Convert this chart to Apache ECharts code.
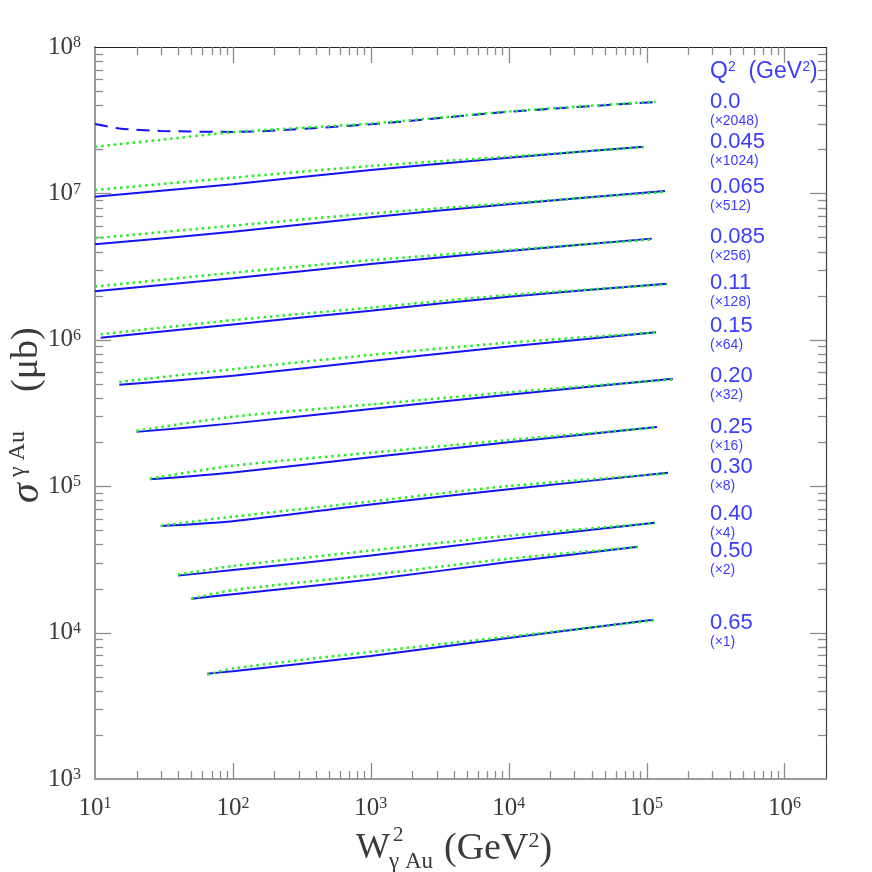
<!DOCTYPE html>
<html><head><meta charset="utf-8">
<script src="https://cdn.jsdelivr.net/npm/echarts@6/dist/echarts.min.js"></script>
<style>html,body{margin:0;padding:0;background:#fff}#c{width:872px;height:872px}</style>
</head><body><div id="c"></div>
<script>
// ---- axis ranges ----
const X_MIN = 10, X_MAX = 2e6, Y_MIN = 1e3, Y_MAX = 1e8;

// ---- legend texts ----
const q2Labels = ['0.0','0.045','0.065','0.085','0.11','0.15','0.20','0.25','0.30','0.40','0.50','0.65'];
const scaleLabels = ['(×2048)','(×1024)','(×512)','(×256)','(×128)','(×64)','(×32)','(×16)','(×8)','(×4)','(×2)','(×1)'];

// ---- curves: W^2 points, solid/dashed (blue) and dotted (green) values in microbarn ----
const w2_q0    = [10, 15, 30, 100, 1000, 10000, 116000];
const blue_q0  = [2.98e7, 2.78e7, 2.67e7, 2.63e7, 2.97e7, 3.61e7, 4.21e7];
const green_q0 = [2.08e7, 2.17e7, 2.32e7, 2.62e7, 3.00e7, 3.63e7, 4.24e7];

const w2_q045    = [10, 100, 1000, 10000, 95000];
const blue_q045  = [9.50e6, 1.154e7, 1.446e7, 1.753e7, 2.084e7];
const green_q045 = [1.055e7, 1.28e7, 1.540e7, 1.781e7, 2.068e7];

const w2_q065    = [10, 100, 1000, 10000, 136000];
const blue_q065  = [4.49e6, 5.47e6, 6.875e6, 8.44e6, 1.039e7];
const green_q065 = [4.94e6, 6.02e6, 7.29e6, 8.56e6, 1.022e7];

const w2_q085    = [10, 100, 1000, 10000, 109000];
const blue_q085  = [2.15e6, 2.63e6, 3.29e6, 4.04e6, 4.91e6];
const green_q085 = [2.31e6, 2.87e6, 3.497e6, 4.11e6, 4.84e6];

const w2_q11    = [11, 100, 1000, 10000, 140000];
const blue_q11  = [1.033e6, 1.274e6, 1.582e6, 1.97e6, 2.417e6];
const green_q11 = [1.09e6, 1.362e6, 1.658e6, 2.023e6, 2.386e6];

const w2_q15    = [15, 100, 1000, 10000, 117000];
const blue_q15  = [4.94e5, 5.69e5, 7.17e5, 8.99e5, 1.125e6];
const green_q15 = [5.15e5, 6.30e5, 7.88e5, 9.56e5, 1.122e6];

const w2_q20    = [20, 100, 1000, 10000, 155000];
const blue_q20  = [2.35e5, 2.686e5, 3.369e5, 4.22e5, 5.42e5];
const green_q20 = [2.39e5, 2.983e5, 3.615e5, 4.38e5, 5.36e5];

const w2_q25    = [25, 100, 1000, 10000, 119000];
const blue_q25  = [1.115e5, 1.242e5, 1.576e5, 1.994e5, 2.537e5];
const green_q25 = [1.125e5, 1.380e5, 1.692e5, 2.068e5, 2.518e5];

const w2_q30    = [30, 100, 1000, 10000, 143000];
const blue_q30  = [5.35e4, 5.77e4, 7.506e4, 9.52e4, 1.237e5];
const green_q30 = [5.37e4, 6.19e4, 7.87e4, 1.003e5, 1.221e5];

const w2_q40    = [40, 100, 1000, 10000, 115000];
const blue_q40  = [2.45e4, 2.675e4, 3.359e4, 4.35e4, 5.63e4];
const green_q40 = [2.49e4, 2.85e4, 3.635e4, 4.59e4, 5.61e4];

const w2_q50    = [50, 100, 1000, 10000, 86500];
const blue_q50  = [1.705e4, 1.831e4, 2.306e4, 3.031e4, 3.862e4];
const green_q50 = [1.705e4, 1.95e4, 2.476e4, 3.197e4, 3.844e4];

const w2_q65    = [65, 100, 1000, 10000, 112000];
const blue_q65  = [5.24e3, 5.45e3, 6.92e3, 9.19e3, 1.225e4];
const green_q65 = [5.16e3, 5.69e3, 7.38e3, 9.38e3, 1.209e4];

const curves = [
  [w2_q0, blue_q0, green_q0], [w2_q045, blue_q045, green_q045], [w2_q065, blue_q065, green_q065],
  [w2_q085, blue_q085, green_q085], [w2_q11, blue_q11, green_q11], [w2_q15, blue_q15, green_q15],
  [w2_q20, blue_q20, green_q20], [w2_q25, blue_q25, green_q25], [w2_q30, blue_q30, green_q30],
  [w2_q40, blue_q40, green_q40], [w2_q50, blue_q50, green_q50], [w2_q65, blue_q65, green_q65]
];

// legend label vertical centres (layout)
const legendY = [102, 142, 187, 237, 283, 326, 376, 427, 467, 514, 551, 623];

const BLUE = '#1212f2', GREEN = '#22ee22', LBLUE = '#3c3cff', AX = '#3a3a3a';
const SERIF = '"Liberation Serif", "DejaVu Serif", serif';
const SANS = '"Liberation Sans", "DejaVu Sans", sans-serif';

const series = [];
curves.forEach((c, k) => {
  const [w, b, g] = c;
  series.push({
    type: 'line', name: 'model ' + q2Labels[k], symbol: 'none', silent: true, z: 3,
    smooth: 0.25,
    data: w.map((x, i) => [x, b[i]]),
    lineStyle: { color: BLUE, width: 2, type: k === 0 ? [13, 8] : 'solid', cap: 'butt' }
  });
  series.push({
    type: 'line', name: 'fit ' + q2Labels[k], symbol: 'none', silent: true, z: 4,
    smooth: 0.25,
    data: w.map((x, i) => [x, g[i]]),
    lineStyle: { color: GREEN, width: 2.5, type: [2.5, 3.8], cap: 'butt' }
  });
});

// minor/major ticks on all four sides drawn through the axes' scales
series.push({
  type: 'custom', silent: true, z: 2, clip: false,
  data: [[X_MIN, Y_MIN]],
  renderItem: function (params, api) {
    const tl = api.coord([X_MIN, Y_MAX]);
    const br = api.coord([X_MAX, Y_MIN]);
    const st = { stroke: '#8c8c8c', lineWidth: 1.3 };
    const ch = [];
    for (let e = 1; e <= 6; e++) for (let m = 1; m <= 9; m++) {
      const v = m * Math.pow(10, e);
      if (v <= X_MIN || v >= X_MAX) continue;
      const px = Math.round(api.coord([v, Y_MIN])[0]) + 0.5;
      const len = m === 1 ? 16 : 8;
      ch.push({ type: 'line', shape: { x1: px, y1: br[1], x2: px, y2: br[1] - len }, style: st });
      ch.push({ type: 'line', shape: { x1: px, y1: tl[1], x2: px, y2: tl[1] + len }, style: st });
    }
    for (let e = 3; e <= 8; e++) for (let m = 1; m <= 9; m++) {
      const v = m * Math.pow(10, e);
      if (v <= Y_MIN || v >= Y_MAX) continue;
      const py = Math.round(api.coord([X_MIN, v])[1]) + 0.5;
      const len = m === 1 ? 16 : 8;
      ch.push({ type: 'line', shape: { x1: tl[0], y1: py, x2: tl[0] + len, y2: py }, style: st });
      ch.push({ type: 'line', shape: { x1: br[0], y1: py, x2: br[0] - len, y2: py }, style: st });
    }
    return { type: 'group', children: ch };
  }
});

function powLabel(v) {
  const e = Math.log10(v);
  if (Math.abs(e - Math.round(e)) > 1e-6) return '';
  return '{b|10}{s|' + Math.round(e) + '}';
}
const labelRich = {
  b: { fontSize: 25, fontFamily: SERIF, color: AX, lineHeight: 24 },
  s: { fontSize: 16, fontFamily: SERIF, color: AX, verticalAlign: 'top' }
};

const graphic = [];
// legend
graphic.push({
  type: 'text', x: 710, y: 72, silent: true,
  style: { text: 'Q{s|2}  (GeV{s|2})', fill: LBLUE, font: '23px ' + SANS, verticalAlign: 'middle',
    rich: { s: { fontSize: 14, fontFamily: SANS, fill: LBLUE, verticalAlign: 'top' } } }
});
q2Labels.forEach((t, k) => {
  graphic.push({ type: 'text', x: 710, y: legendY[k], silent: true,
    style: { text: t, fill: LBLUE, font: '22px ' + SANS, verticalAlign: 'middle' } });
  graphic.push({ type: 'text', x: 710, y: legendY[k] + 19, silent: true,
    style: { text: scaleLabels[k], fill: LBLUE, font: '14px ' + SANS, verticalAlign: 'middle' } });
});
// x axis title
graphic.push({ type: 'text', x: 356, y: 849, silent: true,
  style: { text: 'W', fill: AX, font: '36px ' + SERIF, verticalAlign: 'middle' } });
graphic.push({ type: 'text', x: 393, y: 835, silent: true,
  style: { text: '2', fill: AX, font: '21px ' + SERIF, verticalAlign: 'middle' } });
graphic.push({ type: 'text', x: 389, y: 862, silent: true,
  style: { text: 'γ Au', fill: AX, font: '23px ' + SERIF, verticalAlign: 'middle' } });
graphic.push({ type: 'text', x: 444, y: 849, silent: true,
  style: { text: '(GeV{s|2})', fill: AX, font: '38px ' + SERIF, verticalAlign: 'middle',
    rich: { s: { fontSize: 22, fontFamily: SERIF, fill: AX, verticalAlign: 'top' } } } });
// y axis title (rotated)
graphic.push({ type: 'group', x: 27, y: 415, rotation: Math.PI / 2, silent: true, children: [
  { type: 'text', x: -88, y: 0, style: { text: 'σ', fill: AX, font: 'italic 40px ' + SERIF, verticalAlign: 'middle' } },
  { type: 'text', x: -62, y: -9, style: { text: 'γ Au', fill: AX, font: '24px ' + SERIF, verticalAlign: 'middle' } },
  { type: 'text', x: 23, y: 0, style: { text: '(μb)', fill: AX, font: '38px ' + SERIF, verticalAlign: 'middle' } }
] });

const option = {
  animation: false,
  backgroundColor: '#fff',
  grid: { left: 95, right: 46, top: 47, bottom: 93, containLabel: false },
  xAxis: [
    { type: 'log', logBase: 10, min: X_MIN, max: X_MAX, position: 'bottom',
      axisLine: { show: true, onZero: false, lineStyle: { color: '#9a9a9a', width: 2 } },
      axisTick: { show: false }, splitLine: { show: false },
      axisLabel: { margin: 17, showMaxLabel: false, showMinLabel: true, formatter: powLabel, rich: labelRich } },
    { type: 'log', logBase: 10, min: X_MIN, max: X_MAX, position: 'top',
      axisLine: { show: true, onZero: false, lineStyle: { color: '#222', width: 1.2 } },
      axisTick: { show: false }, splitLine: { show: false }, axisLabel: { show: false } }
  ],
  yAxis: [
    { type: 'log', logBase: 10, min: Y_MIN, max: Y_MAX, position: 'left',
      axisLine: { show: true, onZero: false, lineStyle: { color: '#9a9a9a', width: 2 } },
      axisTick: { show: false }, splitLine: { show: false },
      axisLabel: { margin: 14, formatter: powLabel, rich: labelRich } },
    { type: 'log', logBase: 10, min: Y_MIN, max: Y_MAX, position: 'right',
      axisLine: { show: true, onZero: false, lineStyle: { color: '#444', width: 1.2 } },
      axisTick: { show: false }, splitLine: { show: false }, axisLabel: { show: false } }
  ],
  series: series,
  graphic: graphic
};
const chart = echarts.init(document.getElementById('c'), null, { renderer: 'canvas' });
chart.setOption(option);
</script>
</body></html>
